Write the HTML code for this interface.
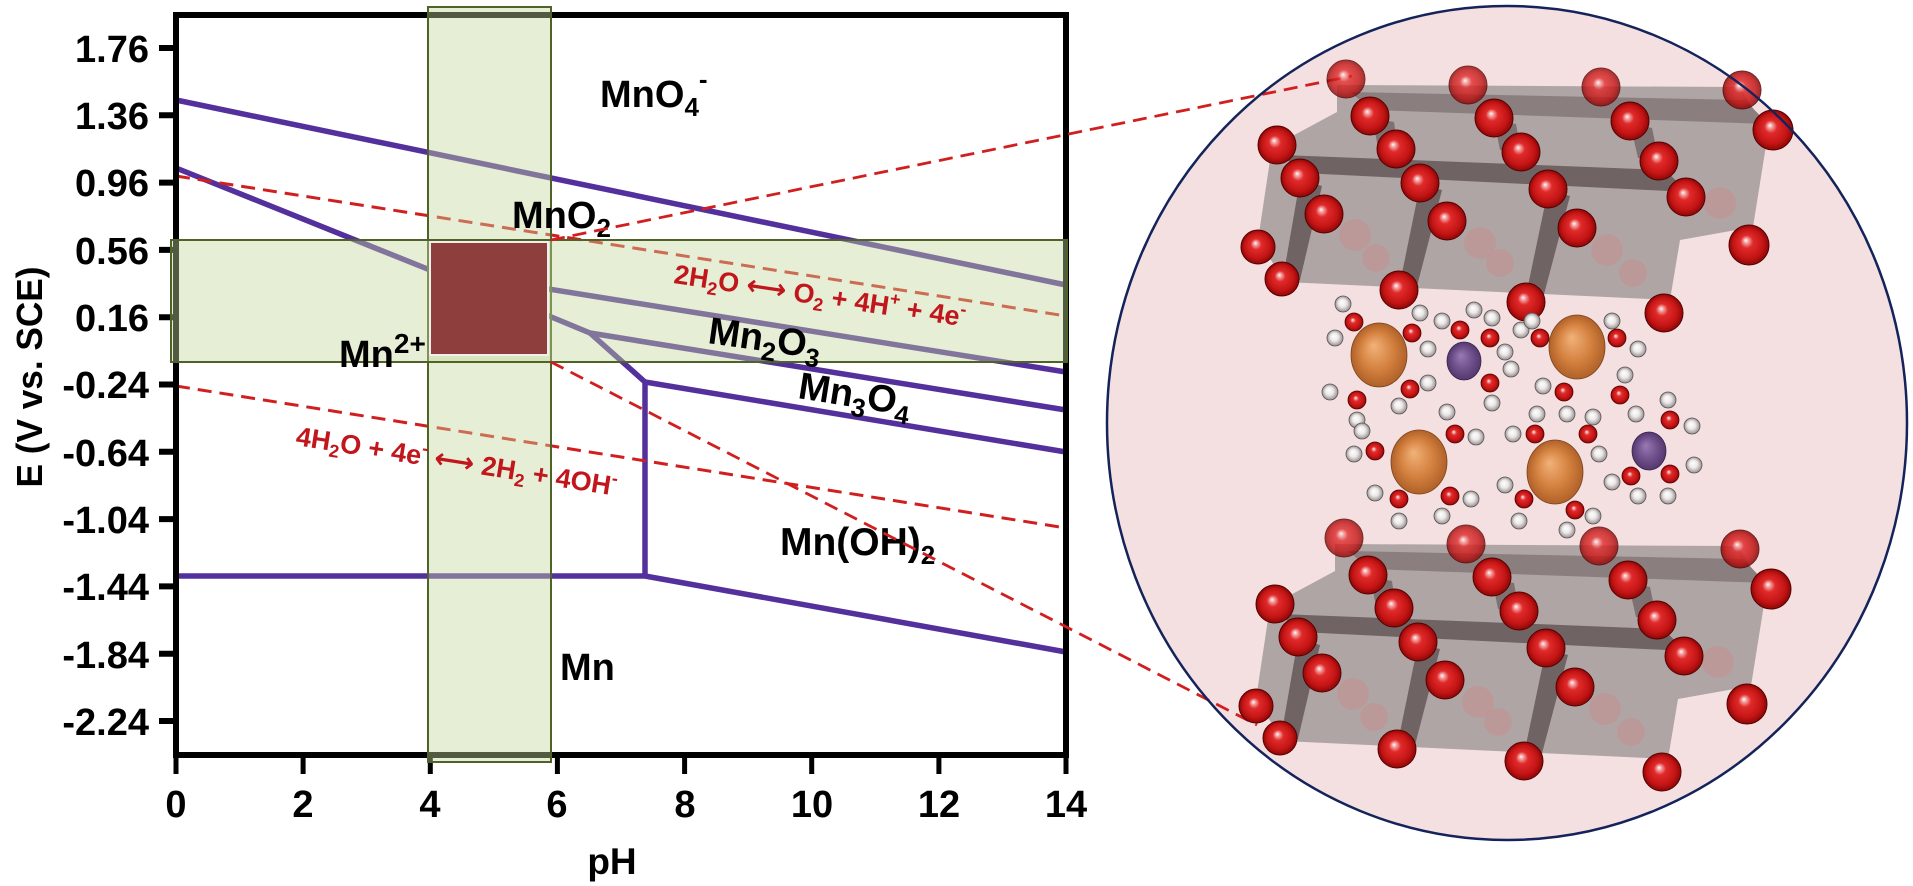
<!DOCTYPE html>
<html><head><meta charset="utf-8"><style>
html,body{margin:0;padding:0;background:#fff;}
svg{display:block;}
text{font-family:"Liberation Sans",Arial,sans-serif;font-weight:bold;white-space:pre;}
.arr{font-family:"DejaVu Sans",sans-serif;font-weight:bold;}
</style></head><body>
<svg width="1913" height="886" viewBox="0 0 1913 886" xmlns="http://www.w3.org/2000/svg">
<defs>
<radialGradient id="gR" cx="0.5" cy="0.5" r="0.5" fx="0.42" fy="0.38">
<stop offset="0" stop-color="#ffffff"/><stop offset="0.12" stop-color="#f4a2a2"/><stop offset="0.32" stop-color="#e02a2a"/><stop offset="0.75" stop-color="#c41414"/><stop offset="1" stop-color="#8a0808"/></radialGradient>
<radialGradient id="gW" cx="0.5" cy="0.5" r="0.5" fx="0.42" fy="0.38">
<stop offset="0" stop-color="#ffffff"/><stop offset="0.5" stop-color="#ece8e8"/><stop offset="1" stop-color="#9a9090"/></radialGradient>
<radialGradient id="gO" cx="0.5" cy="0.5" r="0.5" fx="0.4" fy="0.35">
<stop offset="0" stop-color="#f2b27a"/><stop offset="0.6" stop-color="#d3803e"/><stop offset="1" stop-color="#b0612a"/></radialGradient>
<radialGradient id="gP" cx="0.5" cy="0.5" r="0.5" fx="0.4" fy="0.35">
<stop offset="0" stop-color="#9a7ab5"/><stop offset="0.6" stop-color="#6e4f8a"/><stop offset="1" stop-color="#54386e"/></radialGradient>
<g id="slab">
<polygon points="1337,85 1740,87 1768,133 1753,227 1680,240 1670,300 1285,282 1258,240 1272,147 1337,112" fill="#b0a5a5"/>
<polygon points="1350,92 1745,100 1768,124 1372,110" fill="#8a7e7e"/>
<polygon points="1282,155 1665,170 1688,192 1302,173" fill="#6f6363"/>
<polygon points="1300,180 1322,186 1300,280 1283,278" fill="#6f6363"/>
<polygon points="1420,185 1442,190 1416,290 1399,288" fill="#6f6363"/>
<polygon points="1548,190 1570,196 1542,302 1525,300" fill="#6f6363"/>
<polygon points="1372,118 1394,122 1398,150 1378,147" fill="#7d7171"/>
<polygon points="1494,120 1516,124 1521,152 1500,150" fill="#7d7171"/>
<polygon points="1630,123 1652,128 1659,161 1638,158" fill="#7d7171"/>
<circle cx="1480" cy="243" r="16" fill="#c98c8c" opacity="0.45"/>
<circle cx="1500" cy="263" r="14" fill="#c98c8c" opacity="0.45"/>
<circle cx="1607" cy="250" r="16" fill="#c98c8c" opacity="0.45"/>
<circle cx="1633" cy="273" r="14" fill="#c98c8c" opacity="0.45"/>
<circle cx="1720" cy="203" r="16" fill="#c98c8c" opacity="0.45"/>
<circle cx="1355" cy="235" r="16" fill="#c98c8c" opacity="0.45"/>
<circle cx="1376" cy="258" r="14" fill="#c98c8c" opacity="0.45"/>
<g fill="url(#gR)" stroke="#5a0000" stroke-width="1">
<circle cx="1346" cy="79" r="19" opacity="0.8"/><circle cx="1468" cy="85" r="19" opacity="0.8"/><circle cx="1601" cy="87" r="19" opacity="0.8"/><circle cx="1742" cy="90" r="19" opacity="0.85"/>
<circle cx="1370" cy="116" r="19"/><circle cx="1494" cy="118" r="19"/><circle cx="1630" cy="121" r="19"/><circle cx="1773" cy="130" r="20"/>
<circle cx="1277" cy="145" r="19"/><circle cx="1396" cy="149" r="19"/><circle cx="1521" cy="152" r="19"/><circle cx="1659" cy="161" r="19"/>
<circle cx="1300" cy="178" r="19"/><circle cx="1420" cy="183" r="19"/><circle cx="1548" cy="189" r="19"/><circle cx="1686" cy="197" r="19"/>
<circle cx="1324" cy="214" r="19"/><circle cx="1447" cy="221" r="19"/><circle cx="1577" cy="228" r="19"/><circle cx="1749" cy="245" r="20"/>
<circle cx="1258" cy="247" r="17"/><circle cx="1282" cy="279" r="17"/><circle cx="1399" cy="290" r="19"/><circle cx="1526" cy="302" r="19"/><circle cx="1664" cy="313" r="19"/>
</g>
</g>
</defs>

<!-- chart lines -->
<g fill="none" stroke="#54309c" stroke-width="5.5" stroke-linejoin="round">
<polyline points="176,100 1066,285"/>
<polyline points="176,168 430,270 1066,372"/>
<polyline points="520,304 590,333 1066,410"/>
<polyline points="590,333 645,382 645,576"/>
<polyline points="645,382 1066,452"/>
<polyline points="176,576 645,576 1066,652"/>
</g>
<g fill="none" stroke="#d11f1f" stroke-width="3" stroke-dasharray="14 8">
<line x1="176" y1="176" x2="1066" y2="316"/>
<line x1="176" y1="386" x2="1066" y2="528"/>
</g>

<!-- axes -->
<g stroke="#000" stroke-width="6" fill="none">
<rect x="176" y="15" width="890" height="740"/>
</g>
<g stroke="#000" stroke-width="6">
<line x1="159" y1="48" x2="176" y2="48"/><line x1="159" y1="115.3" x2="176" y2="115.3"/><line x1="159" y1="182.6" x2="176" y2="182.6"/><line x1="159" y1="249.9" x2="176" y2="249.9"/><line x1="159" y1="317.2" x2="176" y2="317.2"/><line x1="159" y1="384.5" x2="176" y2="384.5"/><line x1="159" y1="451.8" x2="176" y2="451.8"/><line x1="159" y1="519.1" x2="176" y2="519.1"/><line x1="159" y1="586.4" x2="176" y2="586.4"/><line x1="159" y1="653.7" x2="176" y2="653.7"/><line x1="159" y1="721" x2="176" y2="721"/>
</g>
<g stroke="#000" stroke-width="5">
<line x1="176" y1="755" x2="176" y2="774"/><line x1="303.1" y1="755" x2="303.1" y2="774"/><line x1="430.3" y1="755" x2="430.3" y2="774"/><line x1="557.4" y1="755" x2="557.4" y2="774"/><line x1="684.6" y1="755" x2="684.6" y2="774"/><line x1="811.7" y1="755" x2="811.7" y2="774"/><line x1="938.9" y1="755" x2="938.9" y2="774"/><line x1="1066" y1="755" x2="1066" y2="774"/>
</g>

<!-- bands -->
<rect x="428" y="7" width="123" height="755" fill="rgb(196,214,155)" fill-opacity="0.42" stroke="#4f6228" stroke-width="2"/>
<rect x="171" y="240" width="896" height="122" fill="rgb(196,214,155)" fill-opacity="0.42" stroke="#4f6228" stroke-width="2"/>

<!-- tick labels -->
<g font-size="38" text-anchor="end" fill="#000">
<text x="149" y="62">1.76</text><text x="149" y="129">1.36</text><text x="149" y="196">0.96</text><text x="149" y="264">0.56</text><text x="149" y="331">0.16</text><text x="149" y="398">-0.24</text><text x="149" y="466">-0.64</text><text x="149" y="533">-1.04</text><text x="149" y="600">-1.44</text><text x="149" y="668">-1.84</text><text x="149" y="735">-2.24</text>
</g>
<g font-size="38" text-anchor="middle" fill="#000">
<text x="176" y="817">0</text><text x="303" y="817">2</text><text x="430" y="817">4</text><text x="557" y="817">6</text><text x="685" y="817">8</text><text x="812" y="817">10</text><text x="939" y="817">12</text><text x="1066" y="817">14</text>
</g>
<text x="612" y="874" font-size="37" text-anchor="middle">pH</text>
<text transform="translate(42,377) rotate(-90)" font-size="36" text-anchor="middle" textLength="221" lengthAdjust="spacingAndGlyphs">E (V vs. SCE)</text>

<!-- chart labels -->
<g font-size="38" fill="#000">
<text x="600" y="107">MnO<tspan font-size="26" dy="9">4</tspan><tspan font-size="26" dy="-28">-</tspan></text>
<text x="512" y="228">MnO<tspan font-size="26" dy="9">2</tspan></text>
<text x="339" y="367">Mn<tspan font-size="28" dy="-14">2+</tspan></text>
<text transform="translate(707,343) rotate(8)">Mn<tspan font-size="26" dy="9">2</tspan><tspan dy="-9">O</tspan><tspan font-size="26" dy="9">3</tspan></text>
<text transform="translate(797,398) rotate(9)">Mn<tspan font-size="26" dy="9">3</tspan><tspan dy="-9">O</tspan><tspan font-size="26" dy="9">4</tspan></text>
<text x="780" y="555" font-size="39">Mn(OH)<tspan font-size="26" dy="9">2</tspan></text>
<text x="560" y="680">Mn</text>
</g>

<!-- red square -->
<rect x="430" y="242" width="118" height="113" fill="#8e3e3c" stroke="#f2eeee" stroke-width="2"/>

<g font-size="27" fill="#c0161c">
<text transform="translate(673,283) rotate(8.5)">2H<tspan font-size="18" dy="6">2</tspan><tspan dy="-6">O </tspan><tspan class="arr" font-size="28">⟷</tspan><tspan> O</tspan><tspan font-size="18" dy="6">2</tspan><tspan dy="-6"> + 4H</tspan><tspan font-size="18" dy="-11">+</tspan><tspan dy="11"> + 4e</tspan><tspan font-size="18" dy="-11">-</tspan></text>
<text transform="translate(295,445) rotate(9)">4H<tspan font-size="18" dy="6">2</tspan><tspan dy="-6">O + 4e</tspan><tspan font-size="18" dy="-11">-</tspan><tspan dy="11"> </tspan><tspan class="arr" font-size="28">⟷</tspan><tspan> 2H</tspan><tspan font-size="18" dy="6">2</tspan><tspan dy="-6"> + 4OH</tspan><tspan font-size="18" dy="-11">-</tspan></text>
</g>

<!-- circle -->
<ellipse cx="1507" cy="423" rx="400" ry="417" fill="#f4e0e1"/>

<g fill="none" stroke="#d11f1f" stroke-width="2.8" stroke-dasharray="14 8">
<line x1="551" y1="240" x2="1352" y2="76"/>
<line x1="551" y1="362" x2="1257" y2="725"/>
</g>

<use href="#slab"/>
<use href="#slab" transform="translate(-2,459)"/>

<!-- interlayer -->
<g>
<g fill="url(#gO)" stroke="#7a4418" stroke-width="0.8">
<ellipse cx="1379" cy="355" rx="28" ry="32"/><ellipse cx="1577" cy="347" rx="28" ry="32"/><ellipse cx="1419" cy="462" rx="28" ry="32"/><ellipse cx="1555" cy="472" rx="28" ry="32"/>
</g>
<g fill="url(#gP)" stroke="#3a2450" stroke-width="0.8">
<ellipse cx="1464" cy="361" rx="17" ry="19"/><ellipse cx="1649" cy="451" rx="17" ry="19"/>
</g>
<g fill="url(#gW)" stroke="#555" stroke-width="0.8">
<circle cx="1343" cy="304" r="8"/><circle cx="1335" cy="338" r="8"/>
<circle cx="1420" cy="313" r="8"/><circle cx="1428" cy="349" r="8"/>
<circle cx="1442" cy="321" r="8"/><circle cx="1474" cy="310" r="8"/>
<circle cx="1492" cy="318" r="8"/><circle cx="1505" cy="352" r="8"/>
<circle cx="1521" cy="330" r="8"/><circle cx="1532" cy="321" r="8"/>
<circle cx="1612" cy="321" r="8"/><circle cx="1638" cy="349" r="8"/>
<circle cx="1399" cy="406" r="8"/><circle cx="1428" cy="383" r="8"/>
<circle cx="1511" cy="369" r="8"/><circle cx="1492" cy="403" r="8"/>
<circle cx="1543" cy="386" r="8"/><circle cx="1567" cy="414" r="8"/>
<circle cx="1625" cy="375" r="8"/><circle cx="1636" cy="414" r="8"/>
<circle cx="1330" cy="392" r="8"/><circle cx="1357" cy="420" r="8"/>
<circle cx="1354" cy="454" r="8"/><circle cx="1362" cy="431" r="8"/>
<circle cx="1447" cy="412" r="8"/><circle cx="1476" cy="437" r="8"/>
<circle cx="1513" cy="434" r="8"/><circle cx="1537" cy="414" r="8"/>
<circle cx="1593" cy="417" r="8"/><circle cx="1599" cy="454" r="8"/>
<circle cx="1668" cy="400" r="8"/><circle cx="1692" cy="426" r="8"/>
<circle cx="1612" cy="482" r="8"/><circle cx="1638" cy="496" r="8"/>
<circle cx="1694" cy="465" r="8"/><circle cx="1668" cy="496" r="8"/>
<circle cx="1375" cy="493" r="8"/><circle cx="1399" cy="521" r="8"/>
<circle cx="1471" cy="499" r="8"/><circle cx="1442" cy="516" r="8"/>
<circle cx="1505" cy="485" r="8"/><circle cx="1519" cy="521" r="8"/>
<circle cx="1593" cy="516" r="8"/><circle cx="1567" cy="530" r="8"/>
</g>
<g fill="url(#gR)" stroke="#5a0000" stroke-width="0.8">
<circle cx="1354" cy="322" r="9"/><circle cx="1412" cy="333" r="9"/><circle cx="1460" cy="330" r="9"/><circle cx="1490" cy="338" r="9"/><circle cx="1540" cy="338" r="9"/><circle cx="1617" cy="338" r="9"/>
<circle cx="1410" cy="389" r="9"/><circle cx="1490" cy="383" r="9"/><circle cx="1564" cy="392" r="9"/><circle cx="1620" cy="395" r="9"/><circle cx="1357" cy="400" r="9"/>
<circle cx="1375" cy="451" r="9"/><circle cx="1455" cy="434" r="9"/><circle cx="1535" cy="434" r="9"/><circle cx="1588" cy="434" r="9"/><circle cx="1670" cy="420" r="9"/>
<circle cx="1631" cy="476" r="9"/><circle cx="1670" cy="474" r="9"/><circle cx="1399" cy="499" r="9"/><circle cx="1450" cy="496" r="9"/><circle cx="1524" cy="499" r="9"/><circle cx="1575" cy="510" r="9"/>
</g>
</g>

<ellipse cx="1507" cy="423" rx="400" ry="417" fill="none" stroke="#14235a" stroke-width="2.5"/>
</svg>
</body></html>
